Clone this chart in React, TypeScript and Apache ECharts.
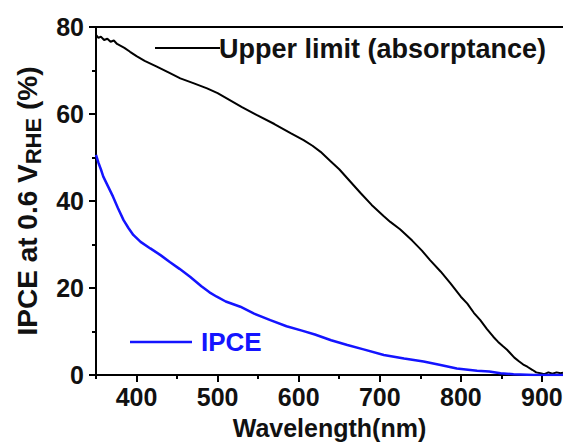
import React, { useEffect, useRef } from "react";
import * as echarts from "echarts";

const upperLimit: [number, number][] = [
  [350, 78.2], [353, 77.5], [356, 77.8], [360, 77.0], [364, 77.3], [368, 76.6], [372, 76.9],
  [376, 76.1], [385, 75.2], [392, 74.3], [400, 73.3], [410, 72.2], [425, 70.9], [440, 69.5],
  [454, 68.2], [470, 67.1], [487, 65.9], [500, 64.8], [515, 63.2], [530, 61.6], [548, 59.8],
  [570, 57.7], [590, 55.6], [606, 54.0], [617, 52.7], [627, 51.3], [639, 49.2], [650, 47.3],
  [663, 44.6], [676, 41.9], [690, 39.1], [705, 36.5], [713, 35.2], [725, 33.5], [740, 30.9],
  [752, 28.6], [762, 26.4], [775, 23.8], [787, 21.1], [800, 18.0], [808, 16.4], [816, 14.3],
  [824, 12.6], [832, 10.6], [840, 8.8], [846, 7.6], [852, 6.6], [857, 5.8], [861, 5.0],
  [866, 4.0], [872, 3.1], [877, 2.4], [882, 1.9], [888, 1.2], [893, 0.6], [898, 0.4],
  [903, 0.2], [908, 0.6], [913, 0.3], [918, 0.6], [923, 0.4], [926, 0.5],
];
const ipce: [number, number][] = [
  [350, 50.6], [353, 48.8], [356, 47.3], [359, 45.6], [365, 43.3], [371, 41.0], [377, 38.4],
  [384, 35.6], [390, 33.8], [396, 32.2], [405, 30.6], [417, 29.1], [430, 27.5], [441, 26.0],
  [453, 24.4], [466, 22.6], [480, 20.4], [490, 19.0], [499, 18.0], [510, 16.9], [528, 15.7],
  [545, 14.1], [565, 12.6], [585, 11.2], [604, 10.2], [620, 9.3], [640, 8.0], [660, 6.9],
  [680, 5.9], [705, 4.6], [730, 3.8], [754, 3.1], [775, 2.3], [795, 1.5], [820, 1.0],
  [835, 0.8], [849, 0.4], [865, 0.2], [890, 0.0], [926, 0.0],
];
const seriesNames = ["Upper limit (absorptance)", "IPCE"];
const xTicks = [400, 500, 600, 700, 800, 900];
const xMinorTicks = [350, 450, 550, 650, 750, 850];
const yTicks = [0, 20, 40, 60, 80];

const FONT = "Liberation Sans";
const BLUE = "#1414ff";

export default function App() {
  const ref = useRef<HTMLDivElement>(null);
  useEffect(() => {
    const chart = echarts.init(ref.current!, null, { renderer: "svg" });
    const axisLabelStyle = { fontFamily: FONT, fontWeight: "bold" as const, fontSize: 25, color: "#111" };
    chart.setOption({
      animation: false,
      backgroundColor: "#fff",
      grid: { left: 96, top: 27, right: 0, bottom: 70, outerBoundsMode: "none", containLabel: false },
      xAxis: [
        {
          type: "value",
          min: 350,
          max: 926,
          interval: 50,
          position: "bottom",
          axisLine: { show: true, lineStyle: { color: "#000", width: 2 } },
          axisTick: { show: true, length: 7, customValues: xTicks, lineStyle: { color: "#000", width: 2 } },
          splitLine: { show: false },
          axisLabel: { ...axisLabelStyle, margin: 9, customValues: xTicks },
          name: "Wavelength(nm)",
          nameLocation: "middle",
          nameGap: 40,
          nameTextStyle: { fontFamily: FONT, fontWeight: "bold", fontSize: 25, color: "#111" },
        },
        {
          type: "value",
          min: 350,
          max: 926,
          position: "top",
          axisLine: { show: true, lineStyle: { color: "#000", width: 2 } },
          axisTick: { show: false },
          axisLabel: { show: false },
          splitLine: { show: false },
        },
        {
          type: "value",
          min: 350,
          max: 926,
          interval: 50,
          position: "bottom",
          axisLine: { show: false },
          axisTick: { show: true, length: 4, customValues: xMinorTicks, lineStyle: { color: "#000", width: 2 } },
          axisLabel: { show: false },
          splitLine: { show: false },
        },
      ],
      yAxis: {
        type: "value",
        min: 0,
        max: 80,
        interval: 20,
        axisLine: { show: true, lineStyle: { color: "#000", width: 2 } },
        axisTick: { show: true, length: 7, lineStyle: { color: "#000", width: 2 } },
        minorTick: { show: true, splitNumber: 2, length: 4, lineStyle: { color: "#000", width: 2 } },
        splitLine: { show: false },
        axisLabel: {
          ...axisLabelStyle,
          margin: 12,
          customValues: yTicks,
        },
        name: "{n|IPCE at 0.6 V}{s|RHE}{n| (%)}",
        nameLocation: "middle",
        nameRotate: 90,
        nameGap: 52,
        nameTextStyle: {
          rich: {
            n: { fontFamily: FONT, fontWeight: "bold", fontSize: 28, color: "#111" },
            s: { fontFamily: FONT, fontWeight: "bold", fontSize: 22, color: "#111", padding: [12, 0, 0, 0] },
          },
        },
      },
      series: [
        {
          name: seriesNames[0],
          type: "line",
          data: upperLimit,
          showSymbol: false,
          lineStyle: { color: "#000", width: 2 },
        },
        {
          name: seriesNames[1],
          type: "line",
          data: ipce,
          showSymbol: false,
          lineStyle: { color: BLUE, width: 2.5 },
        },
      ],
      graphic: [
        { type: "line", shape: { x1: 155, y1: 48, x2: 220, y2: 48 }, style: { stroke: "#000", lineWidth: 2 } },
        {
          type: "text",
          x: 219,
          y: 49,
          style: { text: seriesNames[0], fill: "#111", font: `bold 27px "${FONT}"`, verticalAlign: "middle" },
        },
        { type: "line", shape: { x1: 130, y1: 342, x2: 192, y2: 342 }, style: { stroke: BLUE, lineWidth: 2.5 } },
        {
          type: "text",
          x: 201,
          y: 342,
          style: { text: seriesNames[1], fill: BLUE, font: `bold 26px "${FONT}"`, verticalAlign: "middle" },
        },
      ],
    });
    return () => chart.dispose();
  }, []);
  return <div ref={ref} style={{ position: "fixed", left: 0, top: 0, width: 563, height: 445 }} />;
}
